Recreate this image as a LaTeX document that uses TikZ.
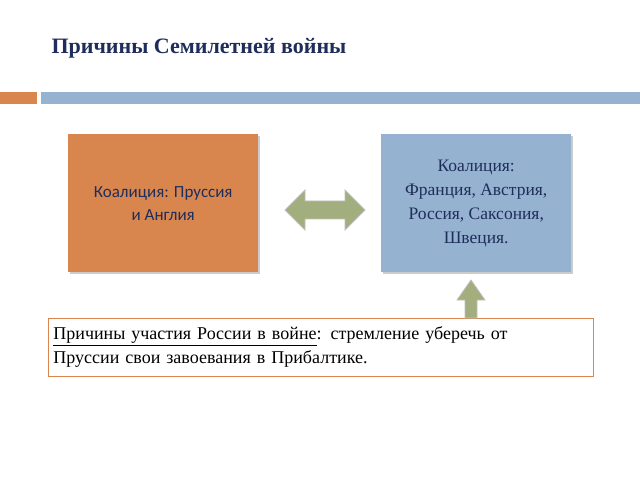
\documentclass[tikz,border=0pt]{standalone}
\usepackage{fontspec}
\setmainfont{Liberation Serif}
\newfontfamily\carlfont{Carlito}
\begin{document}
\begin{tikzpicture}[x=1pt,y=-1pt]
\useasboundingbox (0,0) rectangle (640,481);
\definecolor{orng}{HTML}{D8864E}\definecolor{blu}{HTML}{95B3D1}\definecolor{ttl}{HTML}{1F2D5A}\definecolor{arc}{HTML}{A2AE7E}
\tikzset{card/.style={minimum width=190pt,minimum height=138pt,anchor=north west,align=center,text=ttl},
 arr/.style={fill=arc,draw=gray!50,line width=0.8pt}}
\node[anchor=west,font=\bfseries\fontsize{22}{26}\selectfont,text=ttl] (t) at (48,48) {Причины Семилетней войны};
\fill[orng] (0,92) rectangle (37,104);
\fill[blu] (41,92) rectangle (640,104);
\fill[gray!40] (70,136) rectangle (260,274);
\fill[gray!40] (383,136) rectangle (573,274);
\node[card,fill=orng,font=\carlfont\fontsize{17}{23}\selectfont] (a) at (68,134) {Коалиция: Пруссия\\и Англия};
\node[card,fill=blu,font=\fontsize{17.5}{24}\selectfont] (b) at (381,134) {Коалиция:\\Франция, Австрия,\\Россия, Саксония,\\Швеция.};
\filldraw[arr] (285,210)--(305,190)--(305,201)--(345,201)--(345,190)--(365,210)--(345,230)--(345,219)--(305,219)--(305,230)--cycle;
\node[draw=orng,line width=0.8pt,fill=white,minimum width=545pt,minimum height=58pt,anchor=north west,align=left,text width=535pt,inner xsep=5pt,font=\fontsize{18}{24}\selectfont] (c) at (48,318) {\underline{Причины участия России в войне}: стремление уберечь от\\Пруссии свои завоевания в Прибалтике.};
\filldraw[arr] (465,318) -- (465,300)--(457,300)--(471,280)--(485,300)--(477,300)--(477,318)--cycle;
\end{tikzpicture}
\end{document}
